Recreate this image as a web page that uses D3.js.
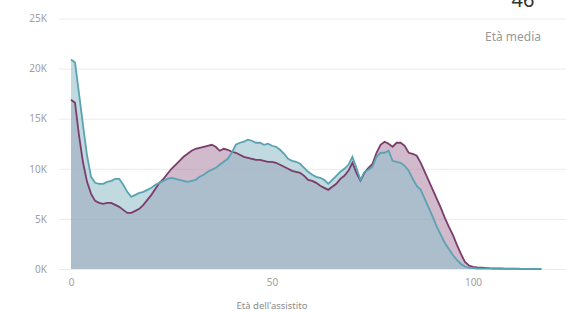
<!DOCTYPE html>
<html>
<head>
<meta charset="utf-8">
<title>Età dell'assistito</title>
<script src="https://cdn.jsdelivr.net/npm/d3@7"></script>
<style>
  body { margin: 0; background: #fff; }
  text { font-family: "Noto Sans", "Open Sans", sans-serif; }
</style>
</head>
<body>
<script>
// valori in migliaia, età 0..117
var serieA = [16.9,16.6,13.3,10.6,8.7,7.5,6.8,6.6,6.5,6.6,
  6.6,6.4,6.2,5.9,5.6,5.6,5.8,6.0,6.4,6.9,
  7.4,8.0,8.6,9.0,9.5,10.0,10.4,10.8,11.2,11.5,
  11.8,12.0,12.1,12.2,12.3,12.4,12.2,11.8,12.0,11.9,
  11.7,11.6,11.4,11.2,11.1,11.0,10.9,10.9,10.8,10.7,
  10.7,10.6,10.4,10.2,10.0,9.8,9.7,9.6,9.3,8.9,
  8.8,8.6,8.3,8.1,7.9,8.2,8.5,9.0,9.3,9.8,
  10.6,9.6,8.8,9.6,10.1,10.5,11.6,12.4,12.7,12.5,
  12.2,12.6,12.6,12.3,11.6,11.5,11.3,10.6,9.7,8.8,
  7.9,7.0,6.1,5.1,4.2,3.4,2.4,1.5,0.7,0.35,
  0.22,0.17,0.14,0.1,0.08,0.07,0.06,0.05,0.04,0.04,
  0.03,0.03,0.02,0.02,0.02,0.01,0.01,0.01];
var serieB = [20.9,20.6,17.5,14.3,11.3,9.2,8.6,8.5,8.5,8.7,
  8.8,9.0,9.0,8.4,7.7,7.2,7.4,7.6,7.7,7.9,
  8.1,8.4,8.6,8.8,9.0,9.1,9.0,8.9,8.8,8.7,
  8.8,8.9,9.2,9.4,9.7,9.9,10.1,10.4,10.7,11.0,
  11.6,12.4,12.6,12.7,12.9,12.8,12.6,12.6,12.4,12.5,
  12.3,12.2,11.9,11.5,11.0,10.8,10.7,10.5,10.1,9.7,
  9.4,9.2,9.1,8.9,8.5,8.9,9.3,9.7,10.0,10.4,
  11.2,10.1,8.9,9.7,9.9,10.2,11.2,11.6,11.6,11.8,
  10.8,10.7,10.6,10.3,9.8,9.0,8.3,7.9,7.0,6.1,
  5.2,4.2,3.4,2.6,2.0,1.4,0.9,0.5,0.25,0.12,
  0.08,0.05,0.04,0.03,0.03,0.02,0.02,0.02,0.02,0.01,
  0.01,0.01,0.01,0.01,0.01,0.01,0.01,0.01];
var yTicks = [0, 5000, 10000, 15000, 20000, 25000];
var xTicks = [0, 50, 100];
var etaMedia = "46";

var W = 566, H = 313;
var svg = d3.select("body").append("svg")
    .attr("width", W).attr("height", H);

var x = d3.scaleLinear().domain([0, 100]).range([71, 473]);
var y = d3.scaleLinear().domain([0, 25000]).range([269, 18.5]);

var dataA = serieA.map(function(v, i) { return {eta: i, val: v * 1000}; });
var dataB = serieB.map(function(v, i) { return {eta: i, val: v * 1000}; });

// griglia
var yAxis = d3.axisLeft(y).tickValues(yTicks)
    .tickFormat(function(d) { return (d / 1000) + "K"; })
    .tickSize(-(W - 59)).tickPadding(12);
var gy = svg.append("g").attr("transform", "translate(59,0)").call(yAxis);
gy.select(".domain").remove();
gy.selectAll(".tick line").attr("stroke", "#ebebeb").attr("stroke-width", 1);
gy.selectAll(".tick text").attr("fill", "#a0a0a0").style("font-size", "10px");

var area = d3.area()
    .x(function(d) { return x(d.eta); })
    .y0(y(0))
    .y1(function(d) { return y(d.val); });
var line = d3.line()
    .x(function(d) { return x(d.eta); })
    .y(function(d) { return y(d.val); });

svg.append("path").datum(dataA).attr("d", area)
    .attr("fill", "#aa82a2").attr("fill-opacity", 0.55);
svg.append("path").datum(dataB).attr("d", area)
    .attr("fill", "#93c0c9").attr("fill-opacity", 0.58);
svg.append("path").datum(dataA).attr("d", line)
    .attr("fill", "none").attr("stroke", "#7a3d6b").attr("stroke-width", 1.8);
svg.append("path").datum(dataB).attr("d", line)
    .attr("fill", "none").attr("stroke", "#5aa3b3").attr("stroke-width", 1.8);

var xAxis = d3.axisBottom(x).tickValues(xTicks).tickSize(0).tickPadding(10);
var gx = svg.append("g").attr("transform", "translate(0,269)").call(xAxis);
gx.select(".domain").remove();
gx.selectAll(".tick text").attr("fill", "#a0a0a0").style("font-size", "10px");

svg.append("text")
    .attr("x", x(50)).attr("y", 309)
    .attr("text-anchor", "middle")
    .attr("fill", "#8a8a8a").style("font-size", "9.5px")
    .text("Età dell'assistito");

svg.append("text")
    .attr("x", 523).attr("y", 7)
    .attr("text-anchor", "middle")
    .attr("fill", "#333").style("font-size", "20px")
    .text(etaMedia);
svg.append("text")
    .attr("x", 513).attr("y", 41)
    .attr("text-anchor", "middle")
    .attr("fill", "#999").style("font-size", "12px")
    .text("Età media");
</script>
</body>
</html>
